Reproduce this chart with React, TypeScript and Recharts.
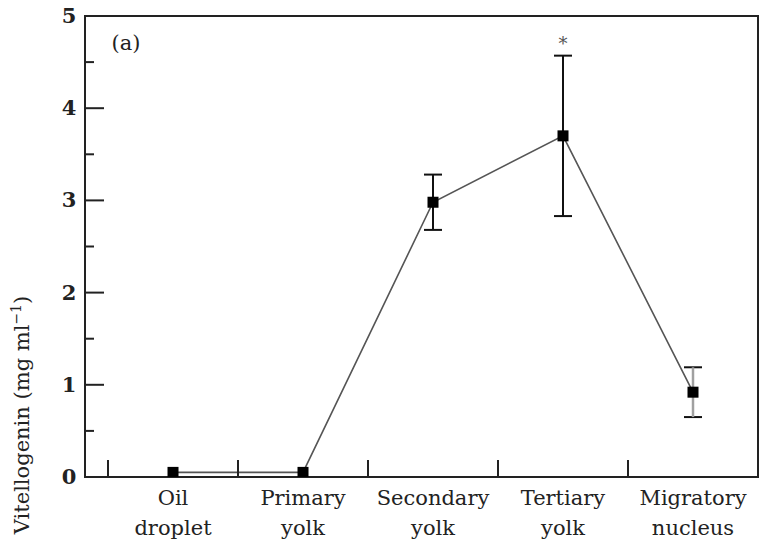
import {
  ComposedChart,
  Line,
  XAxis,
  YAxis,
  ErrorBar,
  ReferenceArea,
  ReferenceDot,
} from "recharts";

// stages of oocyte development
const stages = [
  ["Oil", "droplet"],
  ["Primary", "yolk"],
  ["Secondary", "yolk"],
  ["Tertiary", "yolk"],
  ["Migratory", "nucleus"],
];
const vtgMean = [0.05, 0.05, 2.98, 3.7, 0.92];
const vtgErr = [null, null, 0.3, 0.87, 0.27];
const errShade = ["dark", "dark", "dark", "dark", "light"];
const significance = ["", "", "", "*", ""];

const yTicks = [0, 0.5, 1, 1.5, 2, 2.5, 3, 3.5, 4, 4.5, 5];
const xTicks = [0, 0.5, 1, 1.5, 2, 2.5, 3, 3.5, 4, 4.5];

const FONT = "'DejaVu Serif', serif";
const INK = "#222";

const data = stages.map((s, i) => ({
  x: i + 0.5,
  mean: vtgMean[i],
  err: vtgErr[i],
  errLight: errShade[i] === "light" ? vtgErr[i] : null,
}));

const YTick = (props: any) => {
  const { x, y, payload } = props;
  const v = payload.value;
  const major = Number.isInteger(v);
  const axisX = x + 8;
  return (
    <g>
      {v > 0 && v < 5 && (
        <line x1={axisX} x2={axisX + (major ? 19 : 9)} y1={y} y2={y} stroke={INK} strokeWidth={2} />
      )}
      {major && (
        <text x={axisX - 16} y={y + 7} textAnchor="middle" fontFamily={FONT} fontSize={21} fontWeight="bold" fill={INK}>
          {v}
        </text>
      )}
    </g>
  );
};

const XTick = (props: any) => {
  const { x, y, payload } = props;
  const v = payload.value;
  const axisY = y - 8;
  if (Number.isInteger(v)) {
    return <line x1={x} x2={x} y1={axisY} y2={axisY - 17} stroke={INK} strokeWidth={2} />;
  }
  const lines = stages[Math.floor(v)];
  return (
    <text x={x} textAnchor="middle" fontFamily={FONT} fontSize={21} fill={INK}>
      <tspan x={x} y={axisY + 28}>{lines[0]}</tspan>
      <tspan x={x} y={axisY + 58}>{lines[1]}</tspan>
    </text>
  );
};

const SquareDot = (props: any) => {
  const { cx, cy, index } = props;
  if (cx == null || cy == null) return <g key={index} />;
  return <rect key={index} x={cx - 5.5} y={cy - 5.5} width={11} height={11} fill="#000" />;
};

export default function App() {
  return (
    <div style={{ position: "absolute", left: 0, top: 0, background: "#fff" }}>
      <ComposedChart
        width={760}
        height={547}
        data={data}
        margin={{ top: 16, right: 2, bottom: 0, left: 0 }}
      >
        <XAxis
          dataKey="x"
          type="number"
          domain={[-0.177, 5]}
          ticks={xTicks}
          interval={0}
          height={70}
          axisLine={{ stroke: INK, strokeWidth: 2 }}
          tickLine={false}
          tick={<XTick />}
          allowDataOverflow
        />
        <YAxis
          type="number"
          domain={[0, 5]}
          ticks={yTicks}
          interval={0}
          width={85}
          axisLine={{ stroke: INK, strokeWidth: 2 }}
          tickLine={false}
          tick={<YTick />}
          allowDataOverflow
        />
        <ReferenceArea x1={-0.177} x2={5} y1={0} y2={5} fill="none" stroke={INK} strokeWidth={2} />
        <Line
          dataKey="mean"
          stroke="#555"
          strokeWidth={1.6}
          dot={<SquareDot />}
          activeDot={false}
          isAnimationActive={false}
        >
          <ErrorBar dataKey="err" direction="y" width={9} stroke="#111" strokeWidth={2} isAnimationActive={false} />
          <ErrorBar dataKey="errLight" direction="y" width={0} stroke="#a0a0a0" strokeWidth={2.5} isAnimationActive={false} />
        </Line>
        {significance.map((s, i) =>
          s ? (
            <ReferenceDot
              key={i}
              x={i + 0.5}
              y={vtgMean[i] + (vtgErr[i] ?? 0)}
              r={0}
              fill="none"
              stroke="none"
              label={{ value: s, position: "top", offset: 6, fontFamily: FONT, fontSize: 18, fill: "#555" }}
            />
          ) : null
        )}
        <text x={126} y={50} textAnchor="middle" fontFamily={FONT} fontSize={21} fill={INK}>
          (a)
        </text>
        <text
          transform="translate(29, 415) rotate(-90)"
          textAnchor="middle"
          fontFamily={FONT}
          fontSize={21}
          fill={INK}
        >
          Vitellogenin (mg ml
          <tspan baselineShift="super" fontSize={14}>−1</tspan>)
        </text>
      </ComposedChart>
    </div>
  );
}
